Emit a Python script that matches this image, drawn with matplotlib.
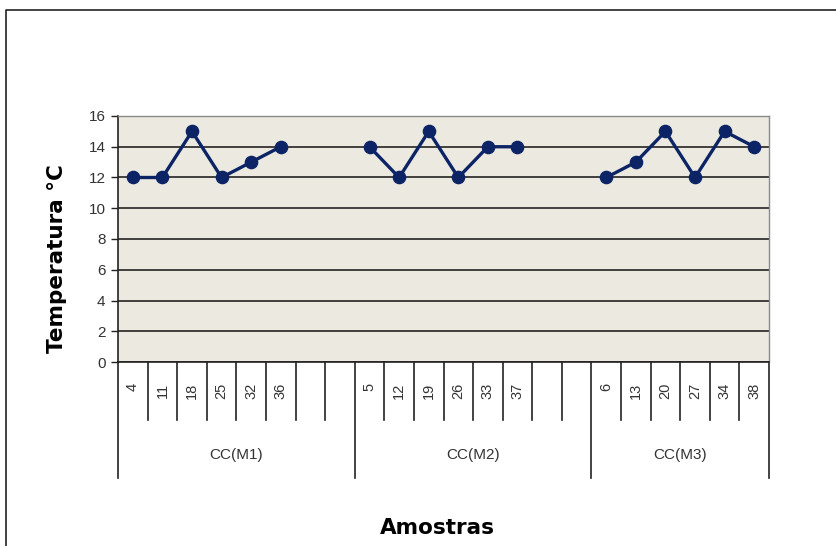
import matplotlib
matplotlib.use("Agg")
import matplotlib.pyplot as plt
from matplotlib.lines import Line2D
from matplotlib.transforms import blended_transform_factory
import numpy as np

plt.rcParams['font.family'] = ['Liberation Sans', 'DejaVu Sans']

# Sample numbers per group (None = empty slot in the category axis)
groups = ["CC(M1)", "CC(M2)", "CC(M3)"]
samples_m1 = ["4", "11", "18", "25", "32", "36", None, None]
samples_m2 = ["5", "12", "19", "26", "33", "37", None, None]
samples_m3 = ["6", "13", "20", "27", "34", "38"]
temps_m1 = [12, 12, 15, 12, 13, 14]
temps_m2 = [14, 12, 15, 12, 14, 14]
temps_m3 = [12, 13, 15, 12, 15, 14]
y_ticks = [0, 2, 4, 6, 8, 10, 12, 14, 16]

W, H = 836, 546
fig = plt.figure(figsize=(W / 100, H / 100), dpi=100)
fig.patch.set_facecolor("white")

# outer chart frame (left and top edges; the others run past the canvas)
fig.add_artist(Line2D([5.5 / W, 5.5 / W, 1.0], [0.0, 1 - 9.5 / H, 1 - 9.5 / H],
                      transform=fig.transFigure, color="#222222", lw=1.2))

left, right, top, bottom = 118, 769, 116, 362
ax = fig.add_axes([left / W, 1 - bottom / H, (right - left) / W, (bottom - top) / H])
ax.set_facecolor("#ECE9E0")

group_samples = [samples_m1, samples_m2, samples_m3]
group_temps = [temps_m1, temps_m2, temps_m3]
line_color = "#0C2466"

slot = 0
group_bounds = [-0.5]
label_pos = []
for samples, temps in zip(group_samples, group_temps):
    xs = np.arange(slot, slot + len(temps))
    ax.plot(xs, temps, color=line_color, lw=2.4, marker="o", ms=8.8,
            markerfacecolor=line_color, markeredgecolor=line_color, zorder=3)
    for i, s in enumerate(samples):
        if s is not None:
            label_pos.append((slot + i, s))
    slot += len(samples)
    group_bounds.append(slot - 0.5)

ax.set_xlim(-0.5, slot - 0.5)
ax.set_ylim(0, 16)
ax.set_yticks(y_ticks)
ax.set_yticklabels([str(v) for v in y_ticks], fontsize=11, color="#333333")
ax.tick_params(axis="y", length=5, width=1, color="#222222", pad=4)
ax.set_xticks([])
ax.grid(axis="y", color="#333333", lw=1.3, zorder=1)
ax.set_axisbelow(True)

for side in ("top", "right"):
    ax.spines[side].set_color("#8a8a8a")
    ax.spines[side].set_linewidth(1.0)
for side in ("left", "bottom"):
    ax.spines[side].set_color("#222222")
    ax.spines[side].set_linewidth(1.2)

# multi-level category axis below the plot
px = 1.0 / (bottom - top)  # one pixel in axes-y units
trans = blended_transform_factory(ax.transData, ax.transAxes)
n_slots = slot
for k in range(n_slots + 1):
    xb = k - 0.5
    is_group = any(abs(xb - g) < 1e-9 for g in group_bounds)
    depth = 116 if is_group else 58
    ax.add_line(Line2D([xb, xb], [0, -depth * px], transform=trans,
                       color="#222222", lw=1.2, clip_on=False))

for x, s in label_pos:
    ax.text(x, -21 * px, s, transform=trans, rotation=90, ha="center", va="top",
            fontsize=10.5, color="#333333")

for gi, name in enumerate(groups):
    xc = (group_bounds[gi] + group_bounds[gi + 1]) / 2
    ax.text(xc, -93 * px, name, transform=trans, ha="center", va="center",
            fontsize=11, color="#333333")

fig.text(57 / W, 1 - 259 / H, "Temperatura °C", rotation=90, ha="center", va="center",
         fontsize=15.5, fontweight="bold", family=["DejaVu Sans"])
fig.text(437 / W, 1 - 528 / H, "Amostras", ha="center", va="center",
         fontsize=15.5, fontweight="bold", family=["DejaVu Sans"])

fig.savefig("out.png", dpi=100)
